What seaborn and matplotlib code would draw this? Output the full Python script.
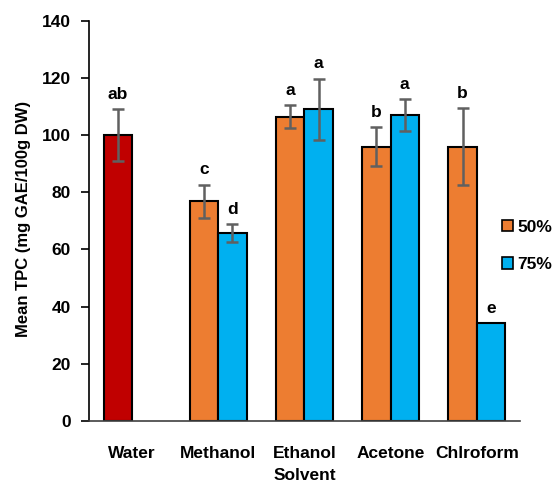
import numpy as np
import pandas as pd
import seaborn as sns
import matplotlib.pyplot as plt
from matplotlib.patches import Patch

# data
solvents = ['Water', 'Methanol', 'Ethanol', 'Acetone', 'Chlroform']
conc = ['50%', '75%']
# Water has a single value (drawn in the 50% slot, in red)
tpc_50 = [100.0, 76.8, 106.5, 96.0, 96.0]
err_50 = [9.2, 5.9, 4.0, 6.7, 13.6]
tpc_75 = [np.nan, 65.7, 109.1, 107.1, 34.2]
err_75 = [np.nan, 3.2, 10.7, 5.6, 0.0]
letters_50 = ['ab', 'c', 'a', 'b', 'b']
letters_75 = ['', 'd', 'a', 'a', 'e']

orange = '#ED7D31'
blue = '#00B0F0'
red = '#C00000'

rows = []
for i, s in enumerate(solvents):
    rows.append([s, '50%', tpc_50[i], err_50[i], letters_50[i]])
    if not np.isnan(tpc_75[i]):
        rows.append([s, '75%', tpc_75[i], err_75[i], letters_75[i]])
df = pd.DataFrame(rows, columns=['solvent', 'conc', 'tpc', 'err', 'letter'])

sns.set_style('ticks')
plt.rcParams['font.family'] = ['Liberation Sans', 'DejaVu Sans']
plt.rcParams['font.weight'] = 'bold'
plt.rcParams['text.color'] = 'black'
plt.rcParams['axes.labelcolor'] = 'black'
plt.rcParams['xtick.color'] = 'black'
plt.rcParams['ytick.color'] = 'black'

fig = plt.figure(figsize=(5.56, 4.86), dpi=100)
ax = fig.add_axes([0.160, 0.134, 0.775, 0.823])

sns.barplot(data=df, x='solvent', y='tpc', hue='conc', order=solvents,
            hue_order=conc, palette=[orange, blue], saturation=1, width=0.66,
            edgecolor='black', linewidth=1.5, errorbar=None, legend=False, ax=ax)

# error bars + significance letters, positioned from the drawn bars
bar_conts = list(ax.containers)
for k, cont in enumerate(bar_conts):
    lev = conc[k]
    for bar in cont:
        xc = bar.get_x() + bar.get_width() / 2
        cat = solvents[int(round(xc))]
        r = df[(df.solvent == cat) & (df.conc == lev)]
        if r.empty:
            continue
        v, e, lt = r.tpc.iloc[0], r.err.iloc[0], r.letter.iloc[0]
        if cat == 'Water':
            bar.set_facecolor(red)
        if e > 0:
            ax.errorbar(xc, v, yerr=e, color='#606060', capsize=4.5,
                        capthick=1.8, elinewidth=1.8, zorder=3)
        ax.text(xc, v + e + 2.5, lt, ha='center', va='bottom',
                fontsize=12.5, fontweight='bold')

ax.set_ylim(0, 140)
ax.set_yticks(range(0, 141, 20))
ax.set_xlim(-0.5, 4.5)
ax.tick_params(axis='y', length=6, width=1.2, pad=7, labelsize=12.5)
ax.tick_params(axis='x', length=0, pad=18, labelsize=12.5)
for t in ax.get_xticklabels() + ax.get_yticklabels():
    t.set_fontweight('bold')
ax.spines['top'].set_visible(False)
ax.spines['right'].set_visible(False)
ax.spines['left'].set_linewidth(1.2)
ax.spines['left'].set_color('black')
ax.spines['bottom'].set_linewidth(1.2)
ax.spines['bottom'].set_color('#404040')

ax.set_ylabel('Mean TPC (mg GAE/100g DW)', fontsize=12, fontweight='bold')
ax.yaxis.set_label_coords(-0.135, 0.505)
ax.set_xlabel('Solvent', fontsize=12.5, fontweight='bold')
ax.xaxis.set_label_coords(0.5, -0.118)

handles = [Patch(facecolor=orange, edgecolor='black', linewidth=1.2),
           Patch(facecolor=blue, edgecolor='black', linewidth=1.2)]
fig.legend(handles, conc, loc='center left', bbox_to_anchor=(0.902, 0.494),
           frameon=False, handlelength=0.65, handleheight=0.65,
           handletextpad=0.25, labelspacing=1.3, borderpad=0, borderaxespad=0,
           prop={'size': 12.5, 'weight': 'bold'})

fig.savefig('out.png', dpi=100)
